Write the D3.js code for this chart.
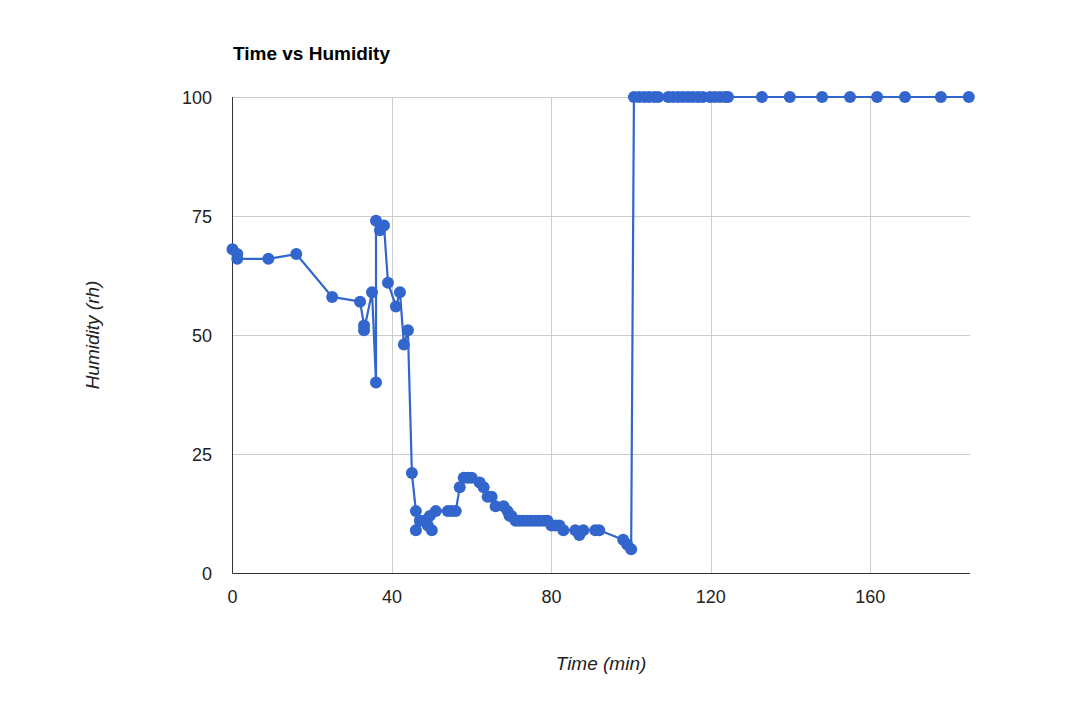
<!DOCTYPE html>
<html><head><meta charset="utf-8">
<script src="https://cdn.jsdelivr.net/npm/d3@7"></script>
<style>body{margin:0;background:#fff}svg{display:block}text{font-family:"Liberation Sans",Arial,sans-serif}</style>
</head><body><svg id="c" width="1067" height="701"></svg>
<script>
const times = [0,1.2,1.2,9,16,25,32,33,33,35,36,36,37,38,39,41,42,43,44,45,46,46,47,48,49,50,49.5,51,54,55,56,57,58,59,60,62,63,64,65,66,68,69,69.5,70,71,72,73,74,75,76,77,78,79,80,81,82,83,86,87,88,91,92,98,99,100,
  100.7,102,103.3,104.5,105.8,106.8,109.3,110.5,111.8,113,114.3,115.5,116.8,118,119.8,121,122.3,123.6,124.3,132.8,139.8,147.9,154.9,161.7,168.7,177.7,184.7];
const humidity = [68,67,66,66,67,58,57,52,51,59,40,74,72,73,61,56,59,48,51,21,13,9,11,11,10,9,12,13,13,13,13,18,20,20,20,19,18,16,16,14,14,13,12,12,11,11,11,11,11,11,11,11,11,10,10,10,9,9,8,9,9,9,7,6,5,
  100,100,100,100,100,100,100,100,100,100,100,100,100,100,100,100,100,100,100,100,100,100,100,100,100,100,100];
const xTicks = [0,40,80,120,160];
const yTicks = [0,25,50,75,100];
const title = "Time vs Humidity", xTitle = "Time (min)", yTitle = "Humidity (rh)";
const data = times.map((t,i)=>({t, h:humidity[i]}));

const svg = d3.select("#c");
const L=232.5, R=970, T=97, B=573;
const x = d3.scaleLinear().domain([0,185]).range([L,R]);
const y = d3.scaleLinear().domain([0,100]).range([B,T]);

svg.append("g").selectAll("line").data(xTicks.filter(d=>d>0)).join("line")
  .attr("x1",d=>Math.round(x(d))+0.5).attr("x2",d=>Math.round(x(d))+0.5).attr("y1",T).attr("y2",B)
  .attr("stroke","#cccccc").attr("stroke-width",1);
svg.append("g").selectAll("line").data(yTicks.filter(d=>d>0)).join("line")
  .attr("x1",L).attr("x2",R).attr("y1",d=>Math.round(y(d))+0.5).attr("y2",d=>Math.round(y(d))+0.5)
  .attr("stroke","#cccccc").attr("stroke-width",1);
svg.append("line").attr("x1",L).attr("x2",L).attr("y1",T).attr("y2",B+0.5).attr("stroke","#333").attr("stroke-width",1);
svg.append("line").attr("x1",L).attr("x2",R).attr("y1",B+0.5).attr("y2",B+0.5).attr("stroke","#333").attr("stroke-width",1);

svg.append("g").selectAll("text").data(yTicks).join("text")
  .attr("x",212).attr("y",d=>y(d)+6.5).attr("text-anchor","end")
  .attr("font-size",18).attr("fill","#222").text(d=>d);
svg.append("g").selectAll("text").data(xTicks).join("text")
  .attr("x",d=>x(d)).attr("y",603).attr("text-anchor","middle")
  .attr("font-size",18).attr("fill","#222").text(d=>d);

svg.append("path").datum(data)
  .attr("d",d3.line().x(d=>x(d.t)).y(d=>y(d.h)))
  .attr("fill","none").attr("stroke","#3366cc").attr("stroke-width",2.2).attr("stroke-linejoin","round");
svg.append("g").selectAll("circle").data(data).join("circle")
  .attr("cx",d=>x(d.t)).attr("cy",d=>y(d.h)).attr("r",6).attr("fill","#3366cc");

svg.append("text").attr("x",233).attr("y",60).attr("font-size",19).attr("font-weight","bold").attr("fill","#000").text(title);
svg.append("text").attr("x",601).attr("y",670).attr("text-anchor","middle").attr("font-size",19).attr("font-style","italic").attr("fill","#222").text(xTitle);
svg.append("text").attr("transform","translate(99,335) rotate(-90)").attr("text-anchor","middle").attr("font-size",19).attr("font-style","italic").attr("fill","#222").text(yTitle);
</script></body></html>
